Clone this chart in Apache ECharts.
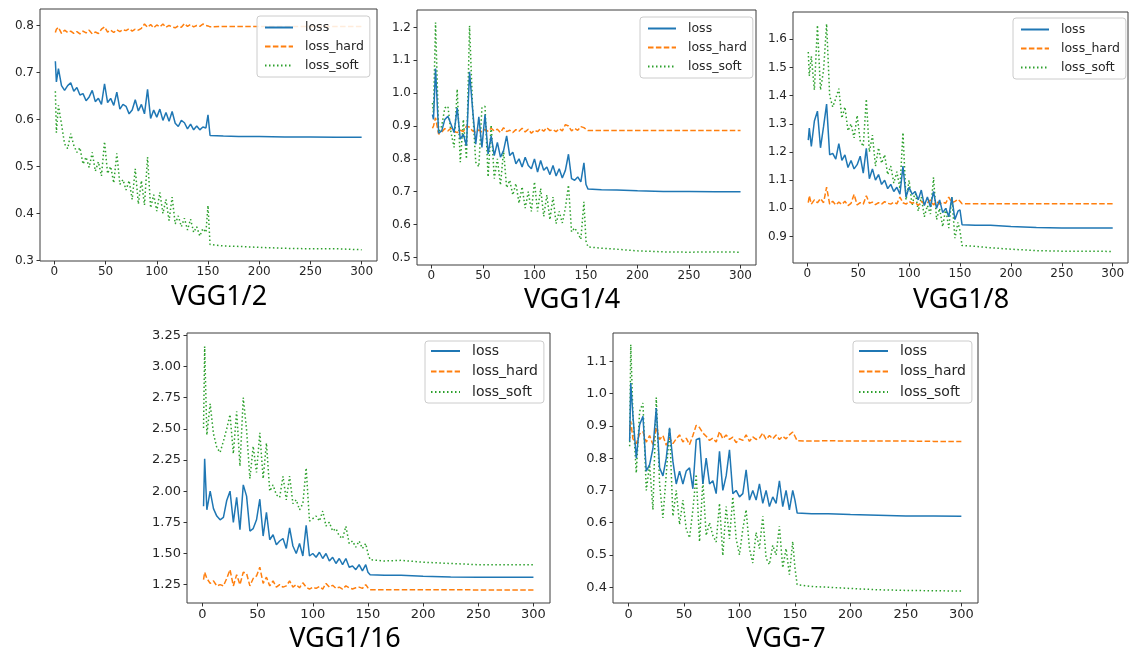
<!DOCTYPE html>
<html>
<head>
<meta charset="utf-8">
<script src="https://cdn.jsdelivr.net/npm/echarts@6/dist/echarts.min.js"></script>
<style>
  html, body { margin: 0; padding: 0; background: #fff; }
  #chart { width: 1130px; height: 650px; }
</style>
</head>
<body>
<div id="chart"></div>
<script>
// epochs sampled from the curves (dense up to 152, sparse on the flat tail)
var epochs = [1, 2, 4, 7, 10, 13, 16, 19, 22, 25, 28, 31, 34, 37, 40, 43, 46, 49, 52, 55,
  58, 61, 64, 67, 70, 73, 76, 79, 82, 85, 88, 91, 94, 97, 100, 103, 106, 109, 112, 115,
  118, 121, 124, 127, 130, 133, 136, 139, 142, 145, 148, 150, 152, 165, 180, 200, 225, 250, 275, 300]

var seriesNames = ['loss', 'loss_hard', 'loss_soft']
var xTicks = [0, 50, 100, 150, 200, 250, 300]

// VGG1/2
var vgg2Loss = [0.724, 0.680, 0.708, 0.672, 0.662, 0.672, 0.678, 0.660, 0.668, 0.652,
  0.655, 0.640, 0.648, 0.662, 0.638, 0.645, 0.632, 0.676, 0.636, 0.645,
  0.630, 0.658, 0.622, 0.632, 0.628, 0.612, 0.620, 0.642, 0.618, 0.632,
  0.612, 0.664, 0.602, 0.620, 0.605, 0.622, 0.598, 0.615, 0.596, 0.617,
  0.592, 0.585, 0.598, 0.593, 0.580, 0.590, 0.578, 0.586, 0.578, 0.584,
  0.582, 0.610, 0.566, 0.565, 0.564, 0.564, 0.563, 0.563, 0.562, 0.562]
var vgg2Hard = [0.785, 0.792, 0.796, 0.783, 0.790, 0.785, 0.788, 0.783, 0.787, 0.782,
  0.788, 0.784, 0.790, 0.782, 0.786, 0.783, 0.792, 0.797, 0.786, 0.790,
  0.785, 0.791, 0.787, 0.791, 0.789, 0.793, 0.788, 0.792, 0.790, 0.794,
  0.803, 0.796, 0.802, 0.795, 0.801, 0.797, 0.803, 0.796, 0.800, 0.797,
  0.795, 0.799, 0.796, 0.804, 0.798, 0.802, 0.797, 0.800, 0.798, 0.803,
  0.800, 0.799, 0.797, 0.798, 0.798, 0.798, 0.798, 0.798, 0.798, 0.798]
var vgg2Soft = [0.660, 0.572, 0.630, 0.590, 0.548, 0.538, 0.570, 0.545, 0.530, 0.540,
  0.505, 0.520, 0.498, 0.530, 0.490, 0.510, 0.480, 0.553, 0.485, 0.500,
  0.465, 0.528, 0.462, 0.472, 0.450, 0.470, 0.430, 0.495, 0.420, 0.470,
  0.418, 0.520, 0.412, 0.440, 0.405, 0.445, 0.400, 0.430, 0.385, 0.435,
  0.378, 0.395, 0.372, 0.390, 0.365, 0.388, 0.360, 0.372, 0.352, 0.368,
  0.360, 0.417, 0.334, 0.331, 0.330, 0.328, 0.326, 0.325, 0.325, 0.323]
var vgg2Ticks = [0.3, 0.4, 0.5, 0.6, 0.7, 0.8]

// VGG1/4
var vgg4Loss = [0.935, 0.920, 1.075, 0.878, 0.885, 0.920, 0.930, 0.905, 0.880, 0.955,
  0.860, 0.875, 0.840, 1.065, 0.950, 0.845, 0.928, 0.835, 0.935, 0.815,
  0.870, 0.810, 0.850, 0.805, 0.825, 0.870, 0.810, 0.820, 0.785, 0.800,
  0.775, 0.805, 0.780, 0.770, 0.800, 0.760, 0.795, 0.765, 0.775, 0.752,
  0.780, 0.748, 0.770, 0.742, 0.765, 0.814, 0.740, 0.735, 0.745, 0.730,
  0.788, 0.722, 0.708, 0.706, 0.705, 0.703, 0.701, 0.701, 0.700, 0.700]
var vgg4Hard = [0.893, 0.900, 0.925, 0.875, 0.882, 0.892, 0.885, 0.893, 0.884, 0.880,
  0.887, 0.883, 0.900, 0.896, 0.885, 0.880, 0.888, 0.882, 0.890, 0.884,
  0.893, 0.885, 0.890, 0.880, 0.895, 0.883, 0.887, 0.880, 0.889, 0.884,
  0.893, 0.882, 0.890, 0.878, 0.887, 0.883, 0.892, 0.884, 0.895, 0.886,
  0.889, 0.883, 0.892, 0.885, 0.904, 0.900, 0.885, 0.893, 0.887, 0.898,
  0.895, 0.890, 0.886, 0.886, 0.886, 0.886, 0.886, 0.886, 0.886, 0.886]
var vgg4Soft = [0.970, 0.940, 1.215, 0.880, 0.900, 0.955, 0.960, 0.880, 0.835, 1.012,
  0.790, 0.920, 0.800, 1.205, 0.950, 0.790, 0.776, 0.955, 0.960, 0.745,
  0.903, 0.740, 0.800, 0.720, 0.825, 0.712, 0.735, 0.690, 0.725, 0.665,
  0.715, 0.650, 0.700, 0.640, 0.730, 0.640, 0.710, 0.625, 0.690, 0.615,
  0.684, 0.603, 0.640, 0.605, 0.650, 0.720, 0.578, 0.590, 0.575, 0.555,
  0.669, 0.550, 0.532, 0.528, 0.525, 0.520, 0.517, 0.516, 0.517, 0.516]
var vgg4Ticks = [0.5, 0.6, 0.7, 0.8, 0.9, 1.0, 1.1, 1.2]

// VGG1/8
var vgg8Loss = [1.242, 1.285, 1.220, 1.310, 1.345, 1.215, 1.290, 1.370, 1.190, 1.195,
  1.175, 1.230, 1.170, 1.190, 1.145, 1.170, 1.140, 1.155, 1.185, 1.125,
  1.213, 1.105, 1.140, 1.100, 1.120, 1.085, 1.100, 1.070, 1.085, 1.060,
  1.075, 1.050, 1.150, 1.040, 1.075, 1.050, 1.060, 1.030, 1.065, 1.010,
  1.040, 1.005, 1.060, 1.000, 1.030, 0.985, 1.000, 0.970, 1.040, 0.960,
  0.990, 0.995, 0.942, 0.940, 0.940, 0.936, 0.932, 0.930, 0.930, 0.930]
var vgg8Hard = [1.020, 1.045, 1.015, 1.030, 1.020, 1.035, 1.020, 1.075, 1.015, 1.025,
  1.012, 1.022, 1.014, 1.025, 1.010, 1.018, 1.050, 1.012, 1.020, 1.015,
  1.045, 1.018, 1.022, 1.013, 1.020, 1.015, 1.024, 1.018, 1.015, 1.022,
  1.016, 1.040, 1.020, 1.015, 1.025, 1.018, 1.022, 1.010, 1.025, 1.015,
  1.020, 1.030, 1.012, 1.025, 1.015, 1.022, 1.018, 1.040, 1.020, 1.025,
  1.032, 1.025, 1.016, 1.016, 1.016, 1.016, 1.016, 1.016, 1.016, 1.016]
var vgg8Soft = [1.555, 1.470, 1.540, 1.420, 1.650, 1.420, 1.490, 1.655, 1.400, 1.360,
  1.390, 1.425, 1.320, 1.360, 1.275, 1.300, 1.250, 1.330, 1.240, 1.220,
  1.388, 1.200, 1.260, 1.150, 1.215, 1.160, 1.190, 1.120, 1.150, 1.090,
  1.130, 1.070, 1.269, 1.030, 1.100, 1.010, 1.060, 0.990, 1.040, 0.970,
  1.010, 0.980, 1.110, 0.960, 1.000, 0.935, 1.000, 0.930, 1.040, 0.894,
  0.950, 0.920, 0.868, 0.865, 0.860, 0.855, 0.850, 0.848, 0.848, 0.847]
var vgg8Ticks = [0.9, 1.0, 1.1, 1.2, 1.3, 1.4, 1.5, 1.6]

// VGG1/16
var vgg16Loss = [1.878, 2.260, 1.850, 2.000, 1.860, 1.800, 1.770, 1.790, 1.925, 2.000,
  1.750, 1.950, 1.690, 2.050, 1.960, 1.680, 1.700, 1.770, 1.935, 1.640,
  1.830, 1.610, 1.650, 1.570, 1.600, 1.620, 1.540, 1.705, 1.560, 1.500,
  1.580, 1.480, 1.726, 1.480, 1.500, 1.470, 1.510, 1.460, 1.500, 1.440,
  1.470, 1.420, 1.460, 1.410, 1.460, 1.390, 1.400, 1.370, 1.410, 1.360,
  1.410, 1.350, 1.330, 1.325, 1.325, 1.318, 1.312, 1.310, 1.310, 1.310]
var vgg16Hard = [1.290, 1.350, 1.300, 1.260, 1.280, 1.240, 1.250, 1.240, 1.300, 1.370,
  1.240, 1.330, 1.250, 1.350, 1.340, 1.240, 1.300, 1.320, 1.390, 1.260,
  1.310, 1.240, 1.280, 1.230, 1.250, 1.230, 1.240, 1.280, 1.230, 1.250,
  1.225, 1.265, 1.230, 1.215, 1.230, 1.220, 1.235, 1.215, 1.260, 1.230,
  1.245, 1.220, 1.230, 1.215, 1.240, 1.225, 1.215, 1.225, 1.230, 1.220,
  1.250, 1.225, 1.210, 1.210, 1.210, 1.209, 1.209, 1.208, 1.208, 1.208]
var vgg16Soft = [2.507, 3.160, 2.450, 2.700, 2.460, 2.350, 2.310, 2.400, 2.500, 2.614,
  2.300, 2.640, 2.200, 2.750, 2.490, 2.100, 2.360, 2.150, 2.467, 2.100,
  2.386, 2.000, 2.050, 1.970, 1.950, 2.119, 1.930, 2.120, 1.900, 1.930,
  1.850, 1.900, 2.186, 1.760, 1.780, 1.800, 1.760, 1.840, 1.720, 1.750,
  1.680, 1.700, 1.640, 1.620, 1.718, 1.580, 1.600, 1.550, 1.600, 1.540,
  1.580, 1.500, 1.450, 1.440, 1.445, 1.430, 1.420, 1.410, 1.410, 1.410]
var vgg16Ticks = [1.25, 1.5, 1.75, 2.0, 2.25, 2.5, 2.75, 3.0, 3.25]

// VGG-7
var vgg7Loss = [0.852, 1.033, 0.930, 0.800, 0.904, 0.930, 0.760, 0.780, 0.830, 0.955,
  0.770, 0.745, 0.800, 0.894, 0.790, 0.720, 0.760, 0.720, 0.760, 0.770,
  0.705, 0.857, 0.862, 0.720, 0.800, 0.720, 0.730, 0.690, 0.821, 0.700,
  0.745, 0.826, 0.690, 0.700, 0.680, 0.690, 0.764, 0.670, 0.700, 0.670,
  0.720, 0.660, 0.700, 0.650, 0.680, 0.660, 0.730, 0.650, 0.700, 0.640,
  0.700, 0.670, 0.630, 0.628, 0.628, 0.625, 0.623, 0.621, 0.621, 0.620]
var vgg7Hard = [0.883, 0.914, 0.860, 0.845, 0.875, 0.882, 0.850, 0.870, 0.842, 0.895,
  0.858, 0.870, 0.840, 0.862, 0.845, 0.860, 0.872, 0.850, 0.862, 0.842,
  0.870, 0.902, 0.895, 0.878, 0.868, 0.855, 0.862, 0.850, 0.883, 0.860,
  0.872, 0.858, 0.865, 0.848, 0.860, 0.855, 0.872, 0.852, 0.866, 0.858,
  0.862, 0.878, 0.858, 0.870, 0.860, 0.872, 0.858, 0.868, 0.860, 0.872,
  0.881, 0.868, 0.854, 0.853, 0.854, 0.853, 0.853, 0.853, 0.852, 0.852]
var vgg7Soft = [0.837, 1.152, 0.930, 0.754, 0.945, 0.971, 0.700, 0.780, 0.640, 0.988,
  0.720, 0.615, 0.750, 0.894, 0.620, 0.700, 0.594, 0.670, 0.580, 0.553,
  0.640, 0.750, 0.541, 0.730, 0.560, 0.600, 0.560, 0.540, 0.660, 0.498,
  0.650, 0.550, 0.680, 0.550, 0.500, 0.580, 0.640, 0.520, 0.475, 0.570,
  0.520, 0.620, 0.490, 0.470, 0.530, 0.500, 0.589, 0.460, 0.520, 0.439,
  0.542, 0.460, 0.408, 0.402, 0.400, 0.396, 0.392, 0.390, 0.389, 0.388]
var vgg7Ticks = [0.4, 0.5, 0.6, 0.7, 0.8, 0.9, 1.0, 1.1]

// layout of the five panels (pixels)
var panels = [
  { title: 'VGG1/2', lines: [vgg2Loss, vgg2Hard, vgg2Soft], ticks: vgg2Ticks, digits: 1, yMin: 0.299, yMax: 0.835,
    grid: [40, 9, 337, 252], legend: [257, 16], titleAt: [219, 297], small: true },
  { title: 'VGG1/4', lines: [vgg4Loss, vgg4Hard, vgg4Soft], ticks: vgg4Ticks, digits: 1, yMin: 0.477, yMax: 1.253,
    grid: [417, 10, 339, 255], legend: [640, 17], titleAt: [572, 300], small: true },
  { title: 'VGG1/8', lines: [vgg8Loss, vgg8Hard, vgg8Soft], ticks: vgg8Ticks, digits: 1, yMin: 0.806, yMax: 1.697,
    grid: [793, 12, 335, 251], legend: [1013, 18], titleAt: [961, 300], small: true },
  { title: 'VGG1/16', lines: [vgg16Loss, vgg16Hard, vgg16Soft], ticks: vgg16Ticks, digits: 2, yMin: 1.103, yMax: 3.268,
    grid: [187, 333, 363, 270], legend: [425, 341], titleAt: [345, 639], small: false },
  { title: 'VGG-7', lines: [vgg7Loss, vgg7Hard, vgg7Soft], ticks: vgg7Ticks, digits: 1, yMin: 0.351, yMax: 1.188,
    grid: [613, 333, 365, 270], legend: [853, 341], titleAt: [786, 639], small: false }
]

var lineStyles = [
  { color: '#1f77b4', type: 'solid' },
  { color: '#ff7f0e', type: [5.5, 2.4] },
  { color: '#2ca02c', type: [1.5, 2.5] }
]

var tickFont = 'DejaVu Sans'
var grids = [], xAxes = [], yAxes = [], series = [], legends = [], texts = []

panels.forEach(function (p, i) {
  var tickSize = p.small ? 12 : 13
  grids.push({
    left: p.grid[0], top: p.grid[1], width: p.grid[2], height: p.grid[3],
    show: true, borderColor: '#3c3c3c', borderWidth: 1, backgroundColor: 'transparent'
  })
  xAxes.push({
    type: 'value', gridIndex: i, min: -14, max: 315,
    axisLine: { show: false, onZero: false },
    splitLine: { show: false },
    axisTick: { show: true, length: 3.5, customValues: xTicks, lineStyle: { color: '#333' } },
    axisLabel: { customValues: xTicks, margin: 5, color: '#262626', fontSize: tickSize, fontFamily: tickFont }
  })
  yAxes.push({
    type: 'value', gridIndex: i, min: p.yMin, max: p.yMax,
    axisLine: { show: false, onZero: false },
    splitLine: { show: false },
    axisTick: { show: true, length: 3.5, customValues: p.ticks, lineStyle: { color: '#333' } },
    axisLabel: {
      customValues: p.ticks, margin: 6, color: '#262626', fontSize: tickSize, fontFamily: tickFont,
      formatter: function (v) { return Number(v).toFixed(p.digits) }
    }
  })
  p.lines.forEach(function (vals, k) {
    series.push({
      name: seriesNames[k], type: 'line', xAxisIndex: i, yAxisIndex: i,
      symbol: 'none', showSymbol: false, silent: true,
      data: epochs.map(function (e, j) { return [e, vals[j]] }),
      lineStyle: { color: lineStyles[k].color, type: lineStyles[k].type, width: 1.5 },
      itemStyle: { color: lineStyles[k].color },
      z: 3 - k
    })
  })
  legends.push({
    data: seriesNames, orient: 'vertical', left: p.legend[0], top: p.legend[1],
    selectedMode: false,
    itemWidth: p.small ? 28 : 29, itemHeight: p.small ? 14 : 15, itemGap: p.small ? 6 : 6.5,
    itemStyle: { opacity: 0 },
    padding: p.small ? [5, 6, 5, 7] : [3, 6, 4, 5],
    backgroundColor: 'rgba(255,255,255,0.85)', borderColor: '#cccccc', borderWidth: 1, borderRadius: 3,
    textStyle: {
      fontFamily: tickFont, fontSize: p.small ? 12.5 : 14, color: '#262626',
      padding: [0, 0, 0, 7]
    }
  })
  texts.push({
    type: 'text', x: p.titleAt[0], y: p.titleAt[1],
    style: {
      text: p.title, align: 'center', verticalAlign: 'middle',
      fontFamily: "'Liberation Sans Narrow', 'Noto Sans', sans-serif", fontSize: 27, fill: '#000'
    }
  })
})

var myChart = echarts.init(document.getElementById('chart'))
myChart.setOption({
  animation: false,
  backgroundColor: '#ffffff',
  grid: grids,
  xAxis: xAxes,
  yAxis: yAxes,
  legend: legends,
  graphic: texts,
  series: series
})
</script>
</body>
</html>
